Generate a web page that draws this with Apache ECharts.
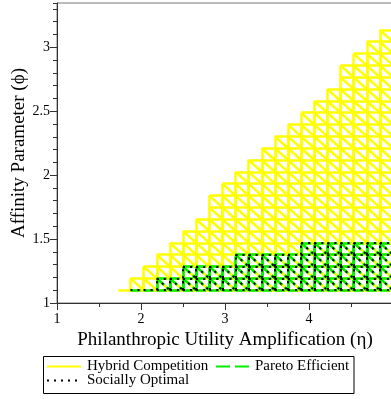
<!DOCTYPE html>
<html>
<head>
<meta charset="utf-8">
<script src="https://cdn.jsdelivr.net/npm/echarts@6/dist/echarts.min.js"></script>
<style>
  html, body { margin: 0; padding: 0; background: #fff; }
  #chart { width: 391px; height: 399px; }
</style>
</head>
<body>
<div id="chart"></div>
<script>
// mesh grid (eta columns, phi rows)
const xGrid = [1.875, 2.031, 2.188, 2.344, 2.5, 2.656, 2.813, 2.969, 3.125, 3.281, 3.438,
  3.594, 3.75, 3.906, 4.063, 4.219, 4.375, 4.531, 4.688, 4.844, 5.0]
const yGrid = [1.1, 1.193, 1.285, 1.378, 1.47, 1.563, 1.655, 1.748, 1.84, 1.933, 2.025, 2.118,
  2.21, 2.303, 2.395, 2.488, 2.58, 2.673, 2.765, 2.858, 2.95, 3.043, 3.135]
// number of filled rows in each column
const hybridRows = [1, 2, 3, 4, 5, 6, 8, 9, 10, 11, 12, 13, 14, 15, 16, 17, 19, 20, 21, 22]
const paretoRows = [0, 0, 1, 1, 2, 2, 2, 2, 3, 3, 3, 3, 3, 4, 4, 4, 4, 4, 4, 4]
const socialRows = [0, 0, 1, 1, 2, 2, 2, 2, 3, 3, 3, 3, 3, 4, 4, 4, 4, 4, 4, 4]
const hybridStub = [1.73, 1.875] // bottom edge left of the first cell
const xTicks = [1, 2, 3, 4, 5]
const yTicks = [1, 1.5, 2, 2.5, 3]

const FONT = "'Liberation Serif', 'Times New Roman', serif"

function meshSegments(rows) {
  const segs = []
  rows.forEach((n, k) => {
    const x0 = xGrid[k], x1 = xGrid[k + 1]
    segs.push([[x0, yGrid[0]], [x1, yGrid[0]]])
    for (let j = 0; j < n; j++) {
      const y0 = yGrid[j], y1 = yGrid[j + 1]
      segs.push([[x0, y0], [x0, y1]])
      segs.push([[x1, y0], [x1, y1]])
      segs.push([[x0, y1], [x1, y1]])
      segs.push([[x0, y1], [x1, y0]])
    }
  })
  return segs.map(c => ({ coords: c }))
}

const hybridData = meshSegments(hybridRows)
hybridData.push({ coords: [[hybridStub[0], yGrid[0]], [hybridStub[1], yGrid[0]]] })

const chart = echarts.init(document.getElementById('chart'), null, { renderer: 'canvas' })

const meshSeries = (name, data, color, width, type, z) => ({
  name, type: 'lines', coordinateSystem: 'cartesian2d', polyline: false,
  data, silent: true, z,
  lineStyle: { color, width, type, opacity: 1, cap: 'butt' },
  animation: false,
})

chart.setOption({
  animation: false,
  textStyle: { fontFamily: FONT },
  grid: {
    left: 57, right: -2, top: 3, bottom: 96, containLabel: false, outerBoundsMode: 'none',
    show: true, borderColor: '#777', borderWidth: 1,
  },
  xAxis: {
    type: 'value', min: xTicks[0], max: xTicks[xTicks.length - 1], interval: 1,
    name: 'Philanthropic Utility Amplification (η)', nameLocation: 'middle', nameGap: 28,
    nameMoveOverlap: false,
    nameTextStyle: { fontFamily: FONT, fontSize: 19, color: '#000' },
    axisLine: { lineStyle: { color: '#333', width: 1 } },
    axisTick: { length: 7, lineStyle: { color: '#333' } },
    minorTick: { show: true, splitNumber: 2, length: 4, lineStyle: { color: '#333' } },
    axisLabel: { fontFamily: FONT, fontSize: 14, color: '#000', margin: 9, showMaxLabel: false },
    splitLine: { show: false },
  },
  yAxis: [{
    type: 'value', min: yTicks[0], max: 3.346, interval: 0.5,
    name: 'Affinity Parameter (ϕ)', nameLocation: 'middle', nameGap: 28,
    nameMoveOverlap: false,
    nameTextStyle: { fontFamily: FONT, fontSize: 19, color: '#000' },
    axisLine: { show: true, lineStyle: { color: '#333', width: 1 } },
    axisTick: { show: true, length: 7, lineStyle: { color: '#333' } },
    axisLabel: { fontFamily: FONT, fontSize: 14, color: '#000', margin: 7, showMaxLabel: false },
    splitLine: { show: false },
  }, {
    type: 'value', min: yTicks[0], max: 3.346, interval: 0.1, position: 'left',
    axisLine: { show: false },
    axisTick: { show: true, length: 4, lineStyle: { color: '#333' } },
    axisLabel: { show: false },
    splitLine: { show: false },
  }],
  series: [
    meshSeries('Hybrid Competition', hybridData, '#ffff00', 2.5, 'solid', 2),
    meshSeries('Pareto Efficient', meshSegments(paretoRows), '#00ee00', 2.5, [10, 3], 3),
    meshSeries('Socially Optimal', meshSegments(socialRows), '#000', 2, [2, 5], 4),
  ],
  graphic: [
    { type: 'rect', shape: { x: 43.5, y: 356.5, width: 310.5, height: 37 },
      style: { fill: '#fff', stroke: '#000', lineWidth: 1 } },
    { type: 'line', shape: { x1: 47, y1: 366.5, x2: 81, y2: 366.5 },
      style: { stroke: '#ffff00', lineWidth: 2 } },
    { type: 'text', x: 87, y: 366.5,
      style: { text: 'Hybrid Competition', font: '15px ' + FONT, fill: '#000', verticalAlign: 'middle' } },
    { type: 'line', shape: { x1: 216, y1: 366.5, x2: 250, y2: 366.5 },
      style: { stroke: '#00ee00', lineWidth: 2, lineDash: [14, 5] } },
    { type: 'text', x: 255, y: 366.5,
      style: { text: 'Pareto Efficient', font: '15px ' + FONT, fill: '#000', verticalAlign: 'middle' } },
    { type: 'line', shape: { x1: 47, y1: 380.5, x2: 80, y2: 380.5 },
      style: { stroke: '#000', lineWidth: 2, lineDash: [2, 5] } },
    { type: 'text', x: 87, y: 380.5,
      style: { text: 'Socially Optimal', font: '15px ' + FONT, fill: '#000', verticalAlign: 'middle' } },
  ],
})
</script>
</body>
</html>
